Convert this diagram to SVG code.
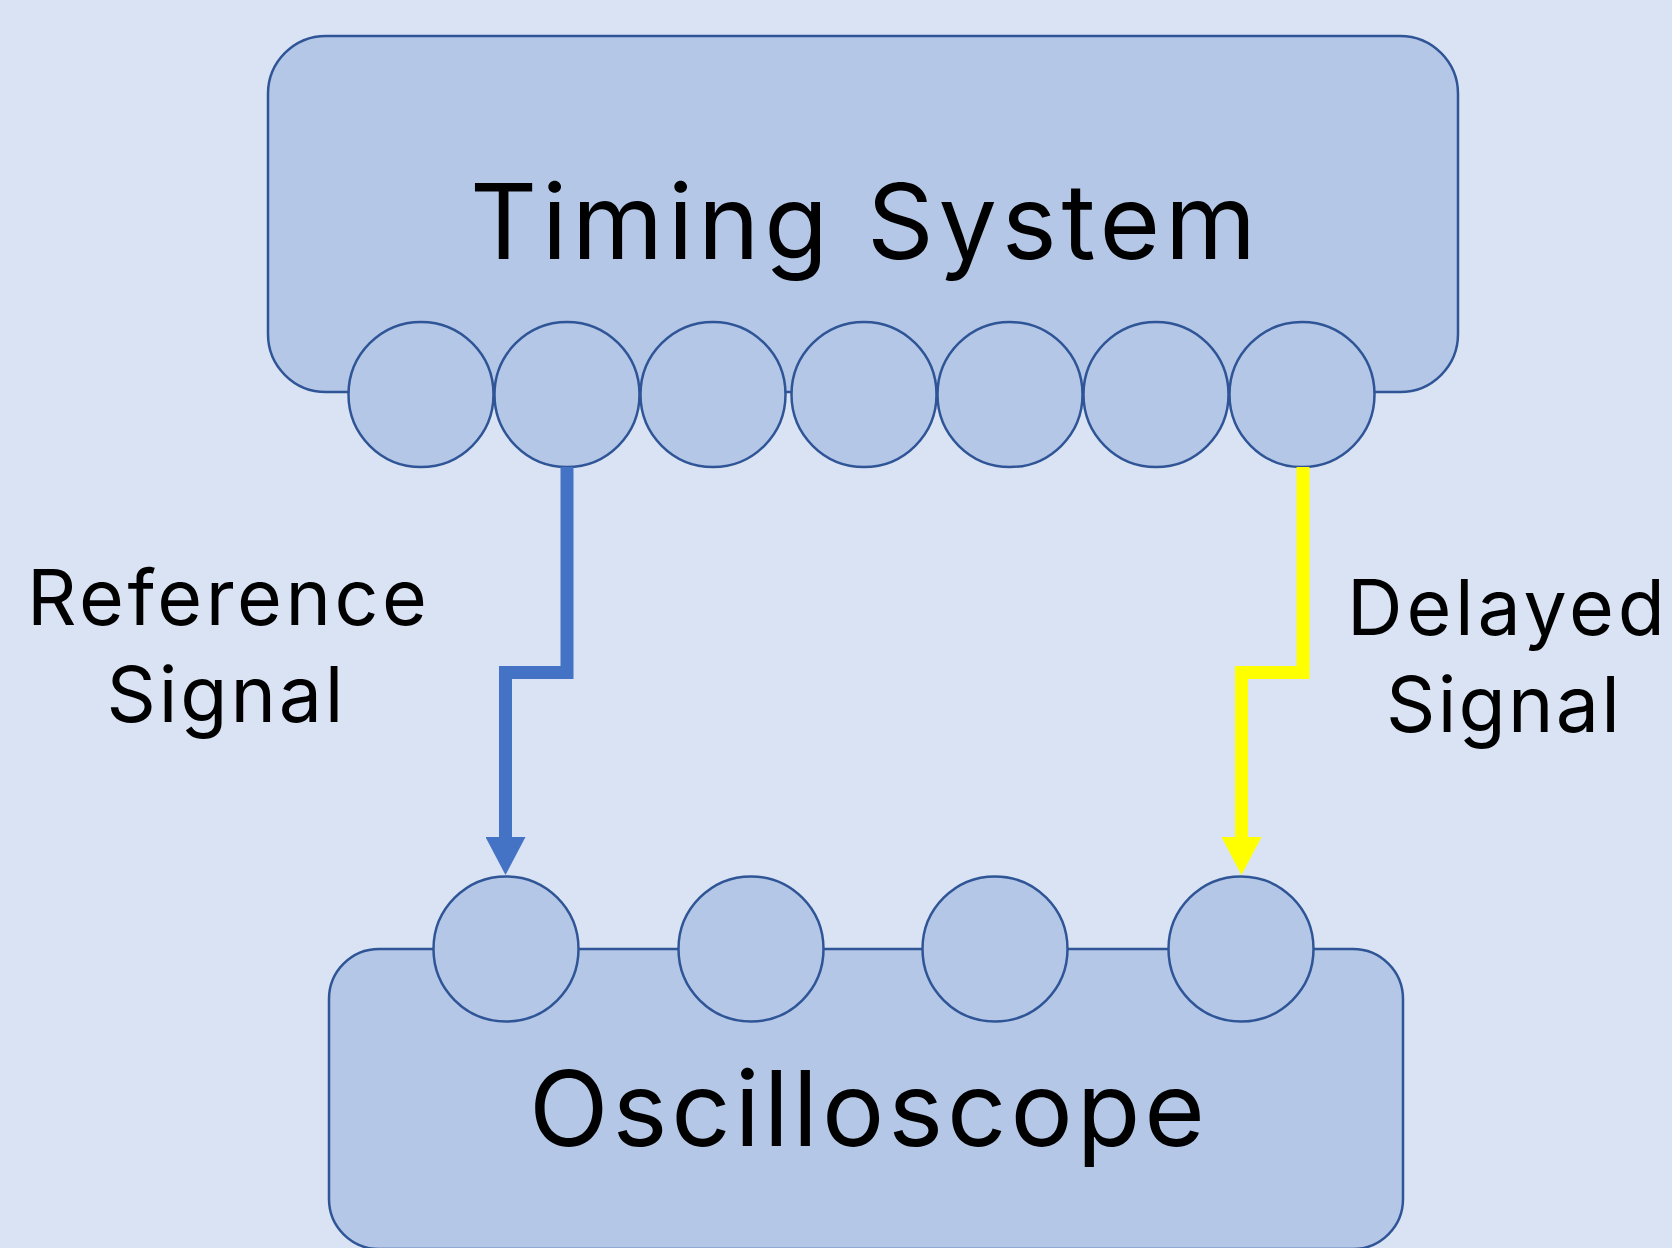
<svg xmlns="http://www.w3.org/2000/svg" width="1672" height="1248" viewBox="0 0 1672 1248">
  <style>
    .box { fill: #b4c7e7; stroke: #2f5597; stroke-width: 2.5; }
    .port { fill: #b4c7e7; stroke: #2f5597; stroke-width: 2.5; }
    .title { font-family: Inter, "Noto Sans", sans-serif; font-size: 104px; fill: #000; text-anchor: middle; }
    .label { font-family: Inter, "Noto Sans", sans-serif; font-size: 77px; fill: #000; text-anchor: middle; }
    .wire { fill: none; stroke-width: 13; stroke-linejoin: miter; stroke-linecap: butt; }
  </style>
  <defs>
    <marker id="arrowBlue" markerUnits="userSpaceOnUse" markerWidth="38" markerHeight="40" refX="0" refY="20" orient="auto" viewBox="0 0 38 40">
      <path d="M0,0 L38,20 L0,40 z" fill="#4472c4"/>
    </marker>
    <marker id="arrowYellow" markerUnits="userSpaceOnUse" markerWidth="38" markerHeight="40" refX="0" refY="20" orient="auto" viewBox="0 0 38 40">
      <path d="M0,0 L38,20 L0,40 z" fill="#ffff00"/>
    </marker>
  </defs>
  <rect width="1672" height="1248" fill="#dae3f3"/>

  <g id="timing-system">
    <rect class="box" x="268" y="36" width="1190" height="356" rx="58" ry="58"/>
    <text class="title" x="863" y="259" textLength="786" lengthAdjust="spacing">Timing System</text>
    <circle class="port" cx="421" cy="394.5" r="72.5"/>
    <circle class="port" cx="567" cy="394.5" r="72.5"/>
    <circle class="port" cx="713" cy="394.5" r="72.5"/>
    <circle class="port" cx="864" cy="394.5" r="72.5"/>
    <circle class="port" cx="1010" cy="394.5" r="72.5"/>
    <circle class="port" cx="1156" cy="394.5" r="72.5"/>
    <circle class="port" cx="1302" cy="394.5" r="72.5"/>
  </g>

  <g id="oscilloscope">
    <rect class="box" x="329" y="949" width="1074" height="300" rx="50" ry="50"/>
    <text class="title" x="867" y="1146" textLength="676" lengthAdjust="spacing">Oscilloscope</text>
    <circle class="port" cx="506" cy="949" r="72.5"/>
    <circle class="port" cx="751" cy="949" r="72.5"/>
    <circle class="port" cx="995" cy="949" r="72.5"/>
    <circle class="port" cx="1241" cy="949" r="72.5"/>
  </g>

  <g id="label-reference">
    <text class="label" x="227" y="625" textLength="400" lengthAdjust="spacing">Reference</text>
    <text class="label" x="225" y="722" textLength="237" lengthAdjust="spacing">Signal</text>
  </g>
  <g id="label-delayed">
    <text class="label" x="1506" y="635" textLength="318" lengthAdjust="spacing">Delayed</text>
    <text class="label" x="1503" y="732" textLength="234" lengthAdjust="spacing">Signal</text>
  </g>

  <g id="connectors">
    <path class="wire" stroke="#4472c4" d="M567,467 V672.5 H505.5 V837" marker-end="url(#arrowBlue)"/>
    <path class="wire" stroke="#ffff00" d="M1303,467 V672.5 H1241.5 V837" marker-end="url(#arrowYellow)"/>
  </g>
</svg>
